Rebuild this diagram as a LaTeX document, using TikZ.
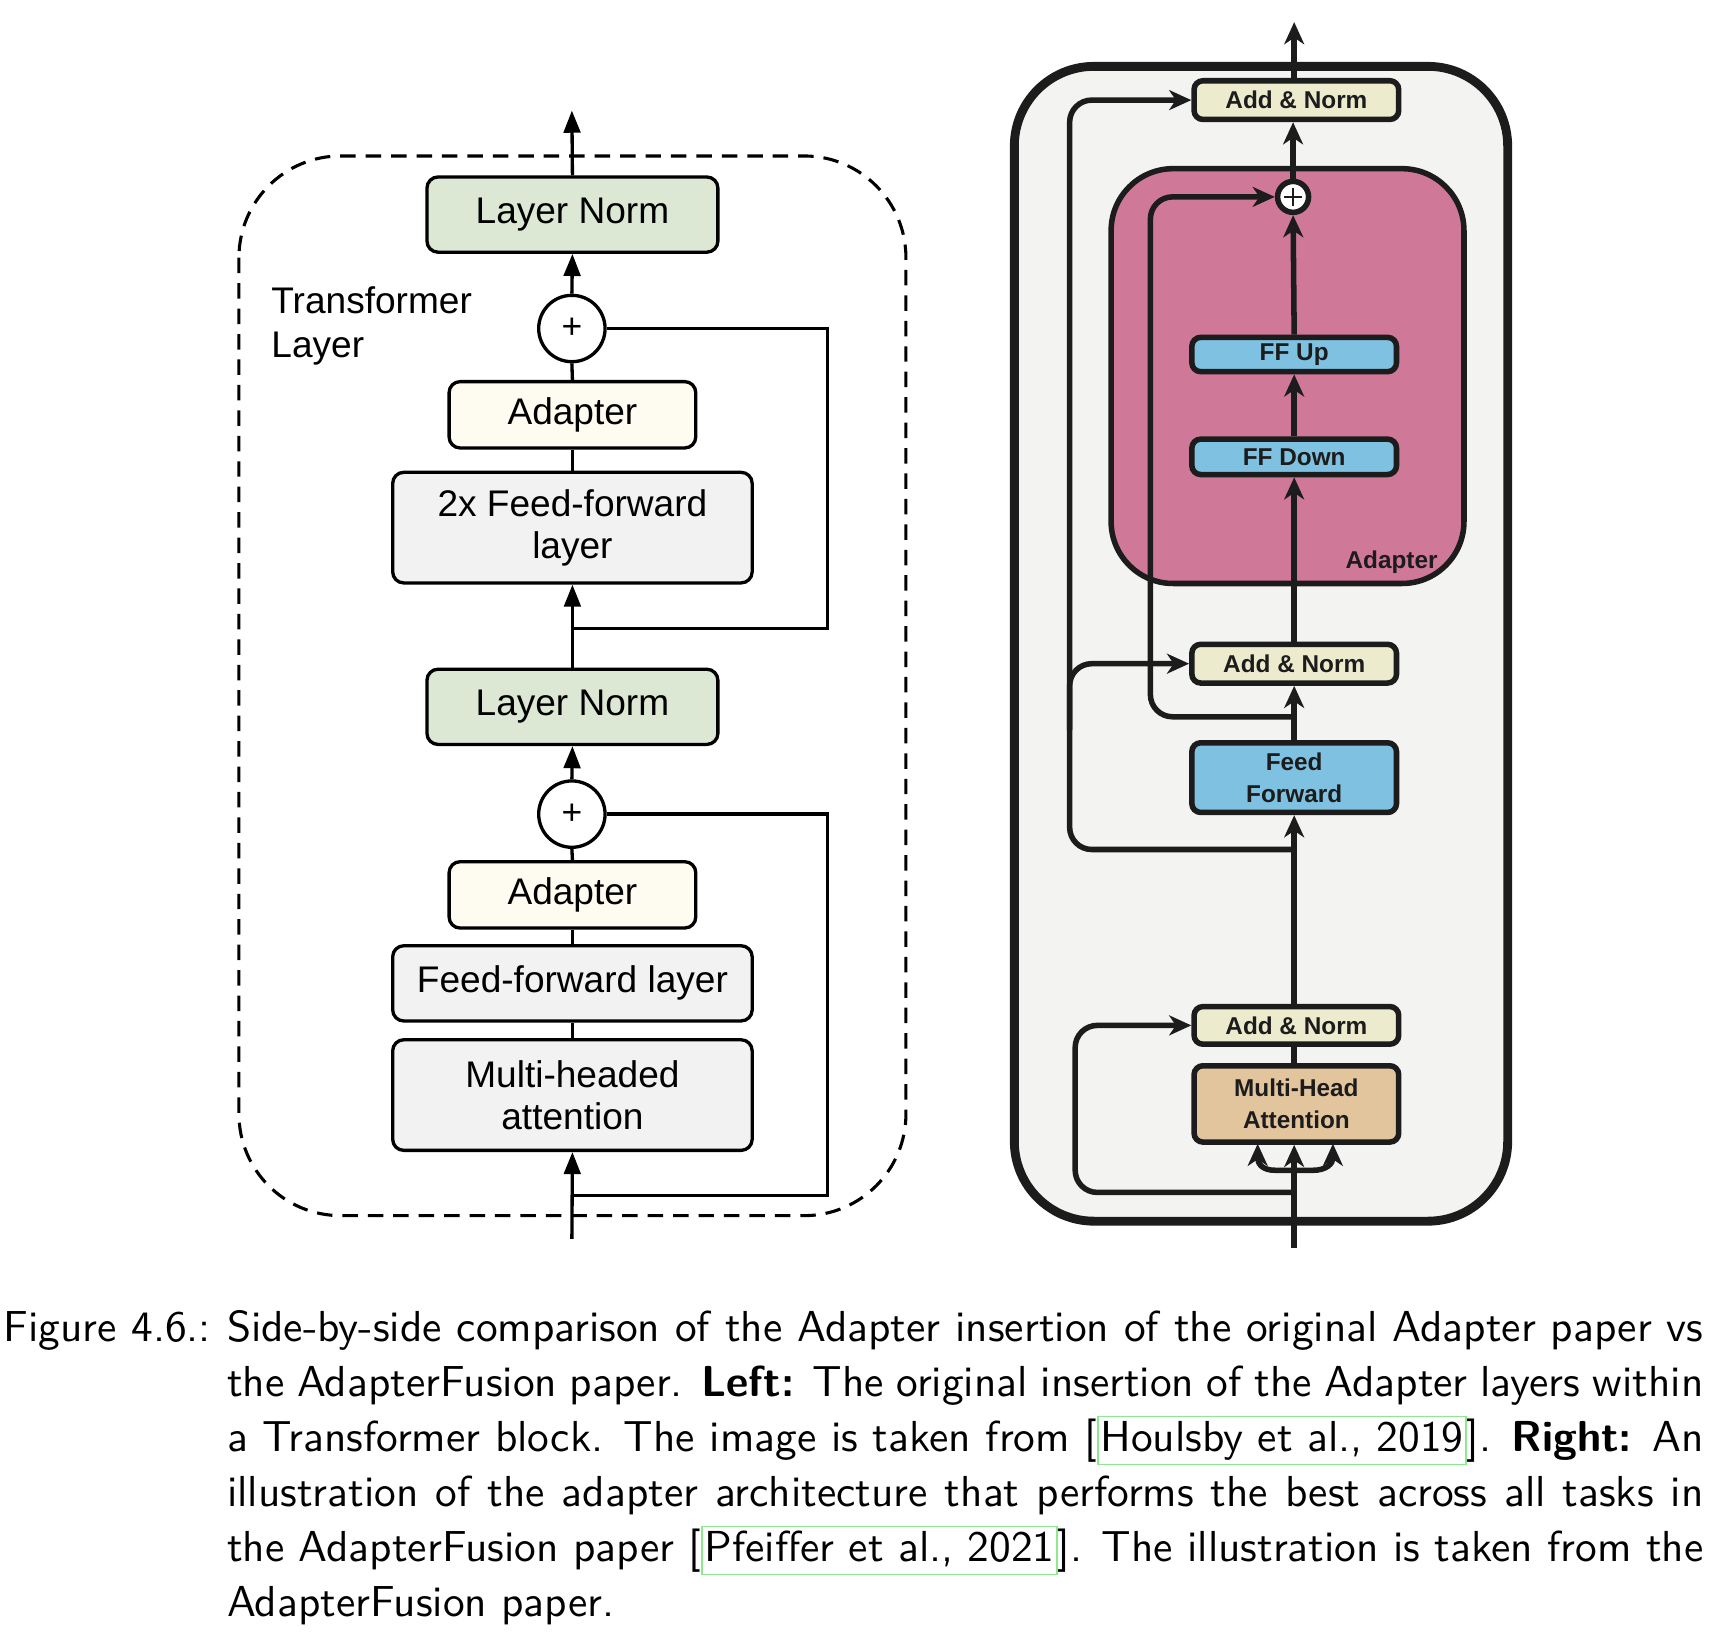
\documentclass[tikz,border=0pt]{standalone}
\usepackage{fontspec}
\newfontfamily\arialfont{Liberation Sans}
\usetikzlibrary{arrows.meta,calc}
\definecolor{lngreen}{HTML}{DCE8D4}
\definecolor{adcream}{HTML}{FEFCF0}
\definecolor{ffgray}{HTML}{F2F2F2}
\definecolor{outerbg}{HTML}{F3F3F1}
\definecolor{anbeige}{HTML}{EDEBCE}
\definecolor{adpink}{HTML}{D07898}
\definecolor{ffblue}{HTML}{7FC1E0}
\definecolor{mhatan}{HTML}{E3C59D}
\definecolor{ink}{HTML}{1C1C1C}
\definecolor{linkgreen}{HTML}{8EE88E}
\newcommand\citeframe[1]{{\setlength\fboxsep{0.4pt}\setlength\fboxrule{0.3pt}\fcolorbox{linkgreen}{white}{\vphantom{[}#1}}}
\tikzset{
  lbox/.style={draw=black, line width=1.5pt, rounded corners=5pt, inner sep=0pt, align=center,
    font=\arialfont\fontsize{16.75}{19}\selectfont},
  lplus/.style={draw=black, fill=white, line width=1.5pt, circle, minimum size=30pt, inner sep=0pt,
    font=\arialfont\fontsize{16}{19}\selectfont},
  lline/.style={draw=black, line width=1.5pt},
  larrow/.style={lline, -{Triangle[length=10pt,width=7.5pt]}},
  rbox/.style={draw=ink, line width=2.5pt, rounded corners=4pt, inner sep=0pt, align=center,
    minimum width=92.5pt, text=ink, font=\arialfont\bfseries\fontsize{11}{14.5}\selectfont},
  rline/.style={draw=ink, line width=2.5pt},
  rarrow/.style={rline, -{Stealth[length=10pt,width=9pt,inset=3pt]}},
  rres/.style={rarrow, rounded corners=10pt},
}
\begin{document}
\begin{tikzpicture}[x=0.5pt,y=-0.5pt]
\useasboundingbox (0,0) rectangle (1564,1480.8);
\fill[white] (0,0) rectangle (1564,1480.8);

% ---------------- left diagram ----------------
\draw[line width=1.4pt, dash pattern=on 7pt off 4.5pt, rounded corners=46pt] (216,141) rectangle (819,1099);
\node[anchor=west, align=left, inner sep=0pt, font=\arialfont\fontsize{16.75}{20}\selectfont] (tl) at (245,295) {Transformer\\Layer};

\node[lbox, fill=ffgray, minimum width=162.5pt, minimum height=50pt] (lmha) at (517.5,990) {Multi-headed\\attention};
\node[lbox, fill=ffgray, minimum width=162.5pt, minimum height=34pt] (lff1) at (517.5,889) {Feed-forward layer};
\node[lbox, fill=adcream, minimum width=111.5pt, minimum height=30pt] (lad1) at (517.5,809) {Adapter};
\node[lplus] (lp1) at (517,736) {+};
\node[lbox, fill=lngreen, minimum width=131.5pt, minimum height=34pt] (lln1) at (517.5,639) {Layer Norm};
\node[lbox, fill=ffgray, minimum width=162.5pt, minimum height=50pt] (lff2) at (517.5,477) {2x Feed-forward\\layer};
\node[lbox, fill=adcream, minimum width=111.5pt, minimum height=30pt] (lad2) at (517.5,375) {Adapter};
\node[lplus] (lp2) at (517,297) {+};
\node[lbox, fill=lngreen, minimum width=131.5pt, minimum height=34pt] (lln2) at (517.5,194) {Layer Norm};

\coordinate (lin) at (517,1120);
\coordinate (lj1) at (517,1081);
\coordinate (lj2) at (517,568);
\coordinate (lout) at (517,100);
\coordinate (lr1) at (748,1081);
\coordinate (lr2) at (748,568);

\draw[larrow] (lin) -- (lmha.south);
\draw[lline] (lj1) -- (lr1) |- (lp1.east);
\draw[lline] (lmha.north) -- (lff1.south);
\draw[lline] (lff1.north) -- (lad1.south);
\draw[lline] (lad1.north) -- (lp1.south);
\draw[larrow] (lp1.north) -- (lln1.south);
\draw[larrow] (lln1.north) -- (lff2.south);
\draw[lline] (lj2) -- (lr2) |- (lp2.east);
\draw[lline] (lff2.north) -- (lad2.south);
\draw[lline] (lad2.north) -- (lp2.south);
\draw[larrow] (lp2.north) -- (lln2.south);
\draw[larrow] (lln2.north) -- (lout);

% ---------------- right diagram ----------------
\draw[ink, fill=outerbg, line width=4pt, rounded corners=36pt] (917,60) rectangle (1363,1104);
\draw[ink, fill=adpink, line width=2.5pt, rounded corners=28pt] (1004.5,152.5) rectangle (1323.5,527.5);
\node[text=ink, font=\arialfont\bfseries\fontsize{11}{14}\selectfont, inner sep=0pt] (adl) at (1258,508) {Adapter};

\node[rbox, fill=mhatan, minimum height=34.5pt] (rmha) at (1172,998) {Multi-Head\\Attention};
\node[rbox, fill=anbeige, minimum height=17pt] (ran1) at (1172,927) {Add \& Norm};
\node[rbox, fill=ffblue, minimum height=31.5pt] (rff) at (1170,703) {Feed\\Forward};
\node[rbox, fill=anbeige, minimum height=17.5pt] (ran2) at (1170,600) {Add \& Norm};
\node[rbox, fill=ffblue, minimum height=16pt] (rfd) at (1170,413) {FF Down};
\node[rbox, fill=ffblue, minimum height=15.5pt] (rfu) at (1170,320.5) {FF Up};
\node[draw=ink, fill=white, line width=2.5pt, circle, minimum size=14pt, inner sep=0pt] (rp) at (1169,178) {};
\draw[ink, line width=1pt] ($(rp.center)+(-8,0)$) -- ($(rp.center)+(8,0)$);
\draw[ink, line width=1pt] ($(rp.center)+(0,-8)$) -- ($(rp.center)+(0,8)$);
\node[rbox, fill=anbeige, minimum height=17.5pt] (ran3) at (1172,90.5) {Add \& Norm};

\coordinate (rin) at (1170,1128);
\coordinate (rsplit) at (1170,1058);
\coordinate (rj1) at (1170,1078);
\coordinate (rj2) at (1170,768);
\coordinate (rj3) at (1170,648);
\coordinate (rout) at (1170,20);
\coordinate (rx1) at (972,1078);
\coordinate (rx2) at (967,768);
\coordinate (rx2b) at (967,660);
\coordinate (rx3) at (1040,648);

\draw[rarrow] (rin) -- (rmha.south -| rin);
\draw[rarrow] (rsplit) -- (1153,1058) .. controls (1141,1058) and (1137,1052) .. (1137,1034);
\draw[rarrow] (rsplit) -- (1187,1058) .. controls (1199,1058) and (1205,1052) .. (1205,1034);
\draw[rres] (rj1) -- (rx1) |- (ran1.west);
\draw[rline] (rmha.north -| rin) -- (ran1.south -| rin);
\draw[rarrow] (ran1.north -| rin) -- (rff.south);
\draw[rres] (rj2) -- (rx2) |- (ran3.west);
\draw[rres] (rx2b) |- (ran2.west);
\draw[rarrow] (rff.north) -- (ran2.south);
\draw[rres] (rj3) -- (rx3) |- (rp.west);
\draw[rarrow] (ran2.north) -- (rfd.south);
\draw[rarrow] (rfd.north) -- (rfu.south);
\draw[rarrow] (rfu.north) -- (rp.south);
\draw[rarrow] (rp.north) -- (ran3.south -| rp);
\draw[rarrow] (ran3.north -| rin) -- (rout);

% ---------------- caption ----------------
\node[anchor=base west, inner sep=0pt] (cap) at (3,1213) {\scalebox{1.96}{\parbox[t]{392pt}{\sffamily\fontsize{10}{12.65}\selectfont
\hangindent=51.5pt\hangafter=1\noindent\makebox[51.5pt][l]{Figure 4.6.:}Side-by-side comparison of the Adapter insertion of the original Adapter paper vs\linebreak
the AdapterFusion paper. \textbf{Left:} The original insertion of the Adapter layers within\linebreak
a Transformer block. The image is taken from [\citeframe{Houlsby et al., 2019}]. \textbf{Right:} An\linebreak
illustration of the adapter architecture that performs the best across all tasks in\linebreak
the AdapterFusion paper [\citeframe{Pfeiffer et al., 2021}]. The illustration is taken from the\linebreak
AdapterFusion paper.}}};
\end{tikzpicture}
\end{document}
